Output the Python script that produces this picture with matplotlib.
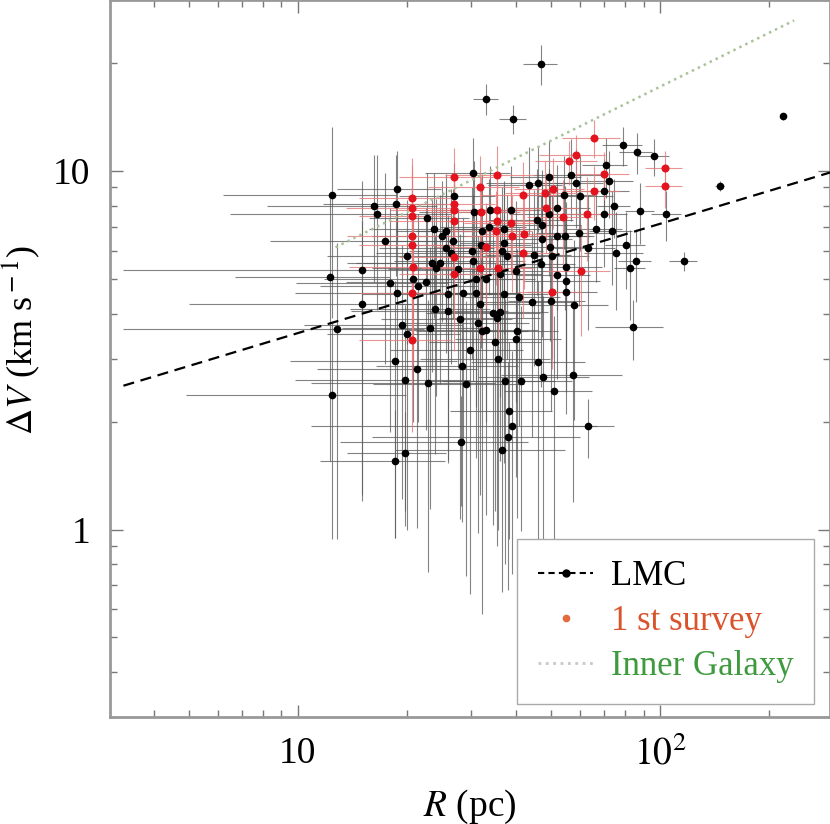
import matplotlib
matplotlib.use('Agg')
import matplotlib.pyplot as plt
from matplotlib.lines import Line2D
from matplotlib.ticker import FixedLocator, FixedFormatter, LogLocator, NullFormatter
import numpy as np

plt.rcParams['font.family'] = ['Liberation Serif', 'DejaVu Serif']
plt.rcParams['mathtext.fontset'] = 'stix'

# LMC clouds (black): size R (pc), linewidth dV (km/s) and their errors
lmc_R = [46.9, 33.0, 39.2, 218, 146, 116, 84, 57.4, 63.2, 38.9, 38.0, 36.5, 28.1, 19.7, 18.5,
         12.4, 18.8, 18.7, 16.2, 16.5, 22.7, 23.7, 17.4, 20.0, 15.0, 12.3, 25.0, 25.7, 26.8, 25.7,
         27.0, 30.4, 30.6, 33.9, 38.7, 33.7, 32.2, 37.1, 32.0, 30.2, 37.0, 36.5, 37.7, 26.4, 23.5,
         24.7, 24.0, 27.7, 30.4, 36.1,
         79, 86, 96, 71, 72, 56.6, 49.4, 43.4, 46, 54.2, 58.6, 60, 70, 74.7, 88, 104, 52, 70, 45.6,
         49.3, 47.3, 52, 54.5, 59.5, 66.5, 73.7, 63, 80.5, 75.5, 85.5, 82.7, 49.7, 47.2, 44.8, 50.4,
         47.0, 55, 52, 40,
         17.9, 18.8, 21.5, 22.6, 15.0, 12.8, 23.9, 26.0, 28.0, 19.4, 20.0, 23.2, 26.0, 28.5, 31.1,
         31.8, 34.6, 35.5, 36.1, 31.4, 32.2, 33.0, 37.0, 40.2, 29.9, 18.5, 21.3, 19.8, 22.9, 28.4,
         29.1, 35.7, 35.0, 37.2, 12.4, 38.3,
         40.8, 44.3, 50, 55, 55, 57.8, 40.1, 46, 47.5, 41.2, 51, 20.8, 31.1, 33.0]
lmc_dV = [19.9, 15.9, 14.0, 14.2, 9.1, 5.6, 3.67, 2.69, 1.95, 1.95, 1.81, 1.67, 1.76, 1.63, 1.55,
          8.6, 8.9, 8.1, 8.0, 7.6, 7.4, 6.9, 6.4, 5.8, 5.3, 5.05, 6.6, 6.8, 6.4, 6.1,
          8.5, 9.9, 7.7, 7.8, 7.8, 7.0, 6.8, 6.9, 6.2, 6.0, 6.3, 6.0, 5.8, 5.9, 5.55,
          5.55, 5.36, 5.33, 5.6, 5.15,
          11.8, 11.3, 11.0, 10.4, 9.4, 9.75, 9.6, 9.15, 9.25, 8.55, 9.25, 8.5, 8.8, 8.0, 7.75, 7.6,
          7.9, 7.6, 7.3, 7.6, 7.05, 6.6, 6.6, 6.7, 6.9, 6.8, 6.1, 6.2, 5.9, 5.6, 5.35, 6.15, 6.45,
          5.85, 5.8, 5.5, 5.4, 5.13, 5.27,
          4.87, 4.58, 4.79, 4.9, 4.25, 3.62, 4.12, 4.06, 3.87, 3.72, 3.50, 3.64, 4.53, 4.58, 4.58,
          4.25, 4.03, 3.9, 4.05, 3.78, 3.58, 3.6, 4.53, 3.58, 3.16, 2.95, 2.81, 2.62, 2.56, 2.85,
          2.54, 3.0, 3.33, 2.6, 2.37, 2.14,
          4.44, 4.31, 4.34, 4.6, 4.92, 4.22, 3.4, 2.94, 2.67, 2.59, 2.43, 5.0, 4.99, 5.0]
lmc_Rerr = [5, 2.6, 3.3, 3, 4, 10, 18, 21, 11.5, 28, 22, 18, 15, 6, 7,
            6.2, 6, 7, 8, 10, 7, 8, 9, 8, 11.7, 5.6, 9, 7, 10, 9,
            8, 8, 9, 10, 8, 9, 11, 10, 12, 10, 9, 11, 10, 10, 9,
            11, 8, 10, 12, 11,
            10, 9, 10, 10, 12, 12, 11, 10, 13, 12, 11, 14, 12, 8, 8, 10, 12, 11, 12,
            11, 13, 12, 11, 14, 12, 10, 12, 10, 14, 9, 8, 12, 10, 12, 13,
            11, 14, 12, 12,
            8, 9, 10, 9, 10, 9.5, 10, 12, 11, 9, 8, 10, 11, 12, 10,
            13, 12, 11, 13, 12, 11, 13, 12, 12, 12, 9, 10, 10, 12, 12,
            13, 14, 12, 14, 7.5, 12,
            12, 13, 12, 12, 13, 14, 13, 16, 16, 16, 14, 9, 11, 12]
lmc_dVerr = [2.5, 1.6, 1.3, 0.3, 0.3, 0.35, 0.7, 1.5, 0.37, 1.2, 1.13, 1.0, 0.6, 0.5, 0.6,
             4.7, 2.5, 3, 3.1, 3.5, 2.5, 3, 3.5, 2.5, 4.1, 3.5, 2.8, 3, 2.5, 3,
             2, 2.5, 3, 2.5, 2.5, 2.5, 3, 2.5, 3, 3, 2.8, 3, 2.8, 3, 2.8,
             3, 3, 2.5, 3, 2.8,
             1.5, 1.5, 1.3, 2, 2, 2.5, 2.5, 2.5, 2.5, 2.5, 2.3, 2.5, 2, 1.5, 1.5, 1.2, 2.5, 2.2, 2.8,
             2.5, 3, 2.5, 2.5, 2.5, 2, 2, 2.5, 1.5, 1.8, 1.3, 1.5, 2.8, 3, 3, 2.8,
             3, 2.8, 2.5, 3,
             3, 3, 2.8, 3, 3, 2.68, 2.5, 2.5, 2.8, 2.5, 2.5, 2.5, 3, 2.8, 3,
             3, 3, 3, 2.5, 2.8, 3, 2.5, 3, 2.5, 2.5, 2.0, 1.8, 1.6, 1.8, 1.8,
             1.8, 2, 2.2, 1.8, 1.43, 1.2,
             2.5, 2.5, 2.2, 2.5, 2.5, 2.2, 2, 2, 1.8, 1.6, 1.5, 3, 2.8, 3]

# clouds from the 1st survey (red)
first_R = [20.7, 20.6, 20.7, 20.7, 20.7, 20.8, 20.7, 20.7, 27, 27, 27, 27, 27, 27,
           31.8, 35.5, 32, 35.5, 35.5, 38.7, 35.2, 38.9, 33, 31.8, 35.6,
           65.5, 103, 103, 58.4, 56, 70, 41.8, 48.2, 50.6, 65.5, 48.5, 53.8, 62.8, 42, 41.7,
           60.5, 50.2]
first_dV = [8.4, 7.9, 7.5, 6.6, 6.2, 5.4, 4.56, 3.37, 9.6, 8.1, 7.8, 7.25, 5.75, 5.15,
            9.0, 9.75, 7.7, 7.8, 7.25, 7.15, 6.8, 6.6, 6.15, 5.36, 5.36,
            12.4, 10.2, 9.1, 11.1, 10.65, 9.8, 8.6, 8.7, 8.9, 8.8, 7.9, 7.45, 7.6, 6.68, 5.9,
            5.27, 4.6]
first_Rerr = [6, 7, 6, 7, 6, 7, 6, 6, 8, 8, 9, 9, 8, 8,
              9, 10, 9, 9, 10, 10, 9, 10, 9, 10, 9,
              12, 12, 12, 12, 11, 12, 10, 11, 11, 12, 11, 11, 12, 10, 10,
              12, 10]
first_dVerr = [2.5, 2.5, 2.5, 2.5, 2.5, 2.5, 2, 1.5, 2, 2, 2, 2, 2, 2,
               2, 2, 2, 2, 2, 2, 2, 2, 2, 2, 2,
               1.5, 1.2, 1.2, 1.5, 1.5, 1.5, 2, 2, 2, 1.5, 2, 2, 2, 2, 2,
               1.8, 1.8]

# power-law relations dV = a * R**b
lmc_fit = (1.75, 0.305)
lmc_fit_range = (3.3, 300)
galaxy_fit = (1.72, 0.5)
galaxy_fit_range = (12.7, 234)

fig = plt.figure(figsize=(8.3, 8.24), dpi=100)
ax = fig.add_axes([110/830, 107/824, 720/830, 717/824])
ax.set_xscale('log')
ax.set_yscale('log')

ax.errorbar(lmc_R, lmc_dV, xerr=lmc_Rerr, yerr=lmc_dVerr, fmt='none',
            ecolor='#5a5a5a', elinewidth=0.8, alpha=0.75, zorder=1)
ax.errorbar(first_R, first_dV, xerr=first_Rerr, yerr=first_dVerr, fmt='none',
            ecolor='#e77a7a', elinewidth=0.8, alpha=0.8, zorder=2)

r1 = np.geomspace(*lmc_fit_range, 50)
ax.plot(r1, lmc_fit[0] * r1 ** lmc_fit[1], ls=(0, (5, 3)), color='black', lw=1.6, zorder=3)
r2 = np.geomspace(*galaxy_fit_range, 50)
ax.plot(r2, galaxy_fit[0] * r2 ** galaxy_fit[1], ls=':', color='#a8c39a', lw=1.8, zorder=3)

ax.plot(lmc_R, lmc_dV, 'o', color='black', ms=5.5, mew=0, zorder=4)
ax.plot(first_R, first_dV, 'o', color='#e3141e', ms=5.8, mew=0, zorder=5)

ax.set_xlim(3.03, 294)
ax.set_ylim(0.30, 30)

ax.xaxis.set_major_locator(FixedLocator([10, 100]))
ax.xaxis.set_major_formatter(FixedFormatter(['10', r'$10^2$']))
ax.yaxis.set_major_locator(FixedLocator([1, 10]))
ax.yaxis.set_major_formatter(FixedFormatter(['1', '10']))
ax.xaxis.set_minor_locator(LogLocator(base=10, subs=np.arange(2, 10)))
ax.yaxis.set_minor_locator(LogLocator(base=10, subs=np.arange(2, 10)))
ax.xaxis.set_minor_formatter(NullFormatter())
ax.yaxis.set_minor_formatter(NullFormatter())
ax.tick_params(which='both', direction='in', top=True, right=True, color='#777777',
               labelsize=27, width=1)
ax.tick_params(which='major', length=9, pad=14)
ax.tick_params(which='minor', length=5)
for s in ax.spines.values():
    s.set_color('#999999')
    s.set_linewidth(2)

ax.set_xlabel(r'$R$ (pc)', fontsize=27)
ax.set_ylabel(r'$\Delta V$ (km s$^{\rm -1}$)', fontsize=26)
ax.xaxis.set_label_coords(0.5, -0.098)
ax.yaxis.set_label_coords(-0.094, 0.526)

handles = [Line2D([], [], color='black', ls=(0, (3, 2)), marker='o', ms=5, lw=1.5),
           Line2D([], [], color='#e36a3c', ls='', marker='o', ms=4.5),
           Line2D([], [], color='#c8c8c8', ls=':', lw=2)]
leg = ax.legend(handles, ['LMC', '1 st survey', 'Inner Galaxy'], loc='lower right',
                bbox_to_anchor=(0.978, 0.018), borderaxespad=0, fontsize=25,
                fancybox=False, edgecolor='#aaaaaa', handlelength=1.6, handletextpad=0.5,
                labelspacing=0.35, borderpad=0.6, framealpha=1)
leg.get_frame().set_linewidth(1)
for t, c in zip(leg.get_texts(), ['black', '#d9532c', '#3f9a3f']):
    t.set_color(c)

fig.savefig('out.png', dpi=100)
